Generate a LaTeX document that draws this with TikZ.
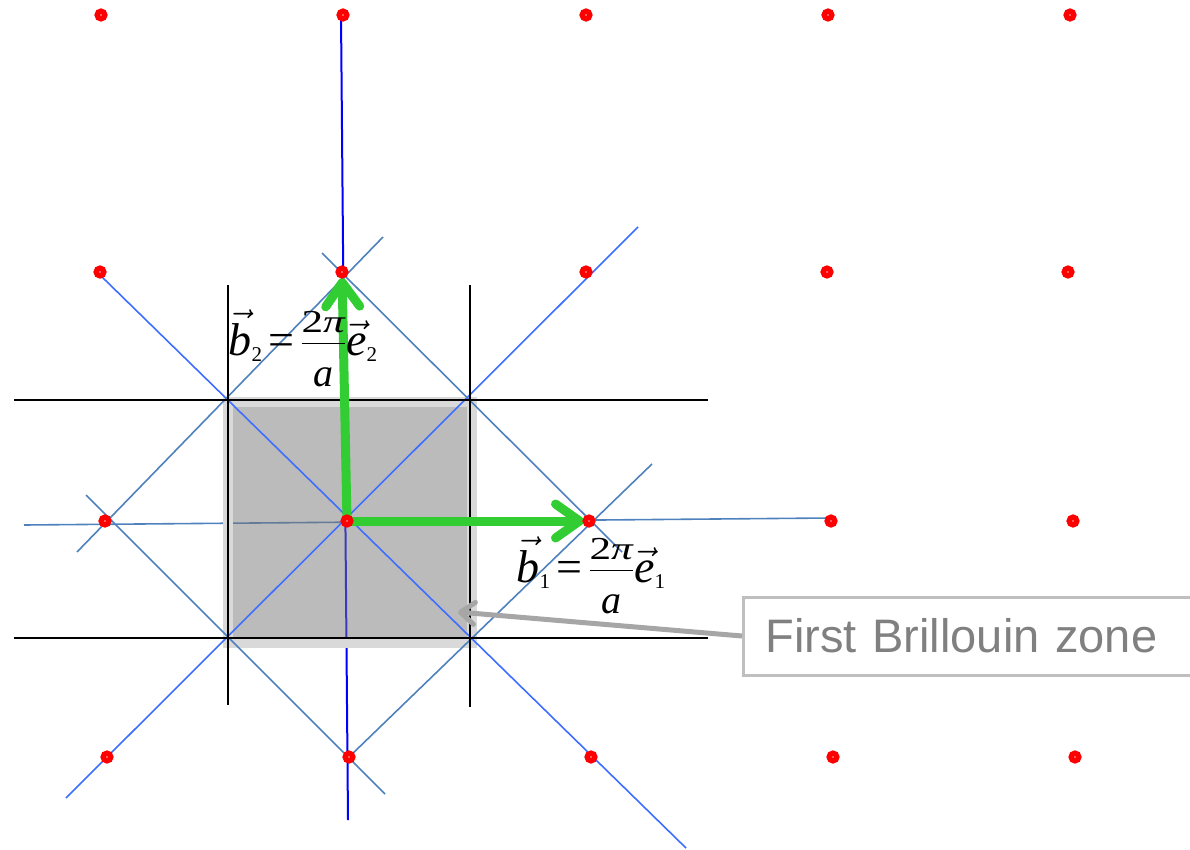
\RequirePackage{fix-cm}
\documentclass[tikz,border=0pt]{standalone}
\usepackage{fontspec}
\newfontfamily\zonefont{Liberation Sans}
\newfontfamily\timesfont{Liberation Serif}
\usetikzlibrary{arrows.meta}
\definecolor{brightblue}{RGB}{62,110,255}
\definecolor{steelblue}{RGB}{79,129,189}
\definecolor{vecgreen}{RGB}{50,205,50}
\definecolor{zonegray}{RGB}{128,128,128}
\definecolor{zoneedge}{RGB}{191,191,191}
\definecolor{pointergray}{RGB}{166,166,166}
\definecolor{boxfill}{RGB}{119,119,119}
\definecolor{boxedge}{RGB}{217,217,217}
\newcommand\vsym[1]{\vec{\mbox{\itshape #1}}}
\newcommand\vsub[1]{_{\mbox{\fontsize{21}{21}\selectfont #1}}}
\newcommand\twopia{{\displaystyle\frac{\raisebox{-9pt}[14pt][0pt]{\scalebox{1.35}[1]{\fontsize{32}{32}\selectfont 2\itshape π}}}{\mbox{\fontsize{40}{40}\selectfont\itshape a}}}}
\begin{document}
\begin{tikzpicture}[x=1pt, y=-1pt,
  kpt/.style={circle, draw=red, fill=white, line width=5.5pt, minimum size=7.5pt, inner sep=0pt},
  bragg/.style={steelblue, line width=1.6pt},
  diag/.style={brightblue, line width=1.6pt},
  zoneline/.style={black, line width=1.6pt},
  bvec/.style={vecgreen, line width=9pt, -{Straight Barb[length=24pt, width=34pt, round]}},
  pointer/.style={pointergray, line width=5pt, -{Straight Barb[length=14pt, width=22pt, round]}},
  formula/.style={anchor=base, inner sep=0pt, font=\timesfont\fontsize{46}{52}\selectfont},
  zonelabel/.style={draw=zoneedge, line width=3pt, text=zonegray, anchor=west,
                    font=\zonefont\fontsize{47}{54}\selectfont, minimum height=78pt,
                    inner xsep=22pt, text width=440pt, align=left},
]
  \useasboundingbox (0,0) rectangle (1190,850);

  \foreach \n/\x/\y in {a1/101/15, a2/343/15, a3/586/15, a4/828/15, a5/1070/15,
                        b1/100/272, b2/342/272, b3/586/272, b4/827/272, b5/1068/272,
                        c1/105/521, c2/347/521, c3/589/521, c4/831/521, c5/1073/521,
                        d1/107/757, d2/349/757, d3/591/757, d4/833/757, d5/1075/757}
    \coordinate (\n) at (\x,\y);
  \coordinate (zonetip) at (458,612);

  \draw[bragg] (24,525) -- (830,518);
  \draw[blue, line width=2pt] (341,15) -- (348,820);

  \draw[draw=boxedge, line width=10pt, fill=boxfill, fill opacity=.5] (228,402) rectangle (472,643);

  \draw[diag] (100,275) -- (686,848);
  \draw[diag] (638,227) -- (66,798);
  \draw[bragg] (383,237) -- (77,552);
  \draw[bragg] (322,253) -- (622,552);
  \draw[bragg] (652,464) -- (d2);
  \draw[bragg] (86,495) -- (385,794);

  \draw[zoneline] (14,400) -- (708,400);
  \draw[zoneline] (14,638) -- (708,638);
  \draw[zoneline] (228,285) -- (228,705);
  \draw[zoneline] (470,285) -- (470,707);

  \draw[bvec, shorten >=5pt] (c2) -- (c3);
  \draw[bvec, shorten >=6pt] (c2) -- (b2);

  \foreach \n in {a1,a2,a3,a4,a5,b1,b2,b3,b4,b5,c1,c2,c3,c4,c5,d1,d2,d3,d4,d5}
    \node[kpt] (dot-\n) at (\n) {};

  \node[formula] (b2lab) at (303,355) {$\vsym{b}\vsub{2}\mbox{\kern6pt=\kern6pt}\twopia\vsym{e}\vsub{2}$};
  \node[formula] (b1lab) at (591,582) {$\vsym{b}\vsub{1}\mbox{\kern6pt=\kern6pt}\twopia\vsym{e}\vsub{1}$};

  \node[zonelabel] (zone) at (742,636) {First Brillouin zone};
  \draw[pointer] (zone.west) -- (zonetip);
\end{tikzpicture}
\end{document}
